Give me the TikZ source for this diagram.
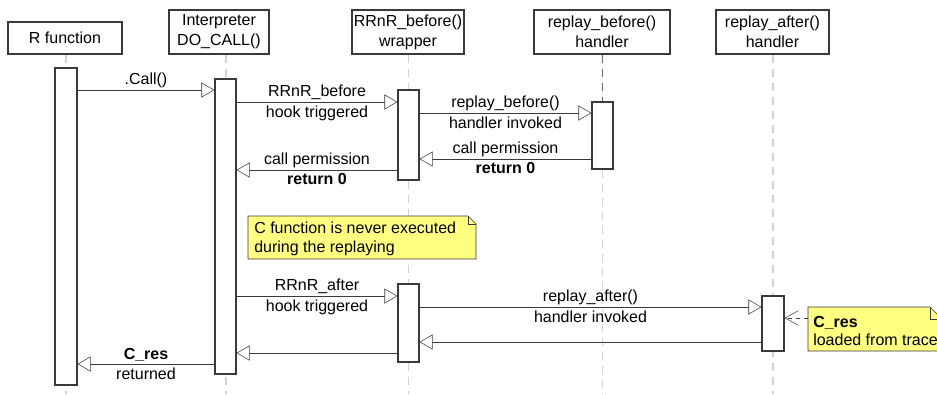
\documentclass[tikz,border=0pt]{standalone}
\usepackage{fontspec}
\setmainfont{Liberation Sans}
\usetikzlibrary{arrows.meta,fit,calc}
\pgfdeclarelayer{back}
\pgfsetlayers{back,main}
\definecolor{ln}{HTML}{3A3A3A}
\definecolor{lifegray}{HTML}{D4D4D4}
\definecolor{notey}{HTML}{FFFF80}
\begin{document}
\begin{tikzpicture}[x=0.75pt,y=-0.75pt,
  font=\fontsize{12pt}{14pt}\selectfont,
  line width=0.8pt,
  hdr/.style={draw=ln, fill=white, align=center, inner sep=0pt, font=\fontsize{12pt}{15pt}\selectfont},
  act/.style={draw=ln, fill=white, inner sep=0pt},
  msg/.style={draw=ln, -{Triangle[open,length=9.75pt,width=11.25pt,fill=white]}},
  dep/.style={draw=ln, dashed, -{Straight Barb[length=10pt,width=11pt]}},
  life/.style={draw=lifegray, dash pattern=on 6pt off 4.5pt, line width=1pt},
  notebox/.style={draw=ln, fill=notey},
  notetext/.style={align=left, inner sep=0pt, anchor=west},
  up/.style={above=1.5pt, inner sep=0pt},
  dn/.style={below=2.5pt, inner sep=0pt}
]
\useasboundingbox (0,0) rectangle (937,394);
\clip (0,0) rectangle (937,394);

% headers
\node[hdr, minimum width=85.5pt, minimum height=24pt] (hR) at (65,38) {R function};
\node[hdr, minimum width=75pt, minimum height=33pt] (hI) at (219,32) {Interpreter\\DO\_CALL()};
\node[hdr, minimum width=84pt, minimum height=33pt] (hW) at (408,32) {RRnR\_before()\\wrapper};
\node[hdr, minimum width=102pt, minimum height=33pt] (hB) at (602,32) {replay\_before()\\handler};
\node[hdr, minimum width=84.75pt, minimum height=33pt] (hA) at (772.5,32) {replay\_after()\\handler};

% lifeline x positions
\coordinate (lR) at (66,0);
\coordinate (lI) at (226,0);
\coordinate (lW) at (408.5,0);
\coordinate (lB) at (602.5,0);
\coordinate (lA) at (773,0);

% activations
\node[act, fit={(55,68)(77,385)}] (aR) {};
\node[act, fit={(215,79)(236,374)}] (aI) {};
\node[act, fit={(398,90)(419,180)}] (aW1) {};
\node[act, fit={(592,102)(613,169)}] (aB) {};
\node[act, fit={(398,284)(419,362)}] (aW2) {};
\node[act, fit={(762,296)(784,351)}] (aA) {};

\begin{pgfonlayer}{back}
\draw[life] (hR.south -| lR) -- (lR |- 0,394);
\draw[life] (hI.south -| lI) -- (lI |- 0,394);
\draw[life] (hW.south -| lW) -- (lW |- 0,394);
\draw[life, draw=black!60] (hB.south -| lB) -- (aB.north -| lB);
\draw[life] (aB.south -| lB) -- (lB |- 0,394);
\draw[life] (hA.south -| lA) -- (lA |- 0,394);
\end{pgfonlayer}

% messages
\draw[msg] (aR.east |- 0,90) -- node[up] (m1) {.Call()} (aI.west |- 0,90);
\draw[msg] (aI.east |- 0,102) -- node[up] (m2a) {RRnR\_before} node[dn] (m2b) {hook triggered} (aW1.west |- 0,102);
\draw[msg] (aW1.east |- 0,113) -- node[up] (m3a) {replay\_before()} node[dn] (m3b) {handler invoked} (aB.west |- 0,113);
\draw[msg] (aB.west |- 0,159) -- node[up] (m4a) {call permission} node[dn] (m4b) {\textbf{return 0}} (aW1.east |- 0,159);
\draw[msg] (aW1.west |- 0,170) -- node[up] (m5a) {call permission} node[dn] (m5b) {\textbf{return 0}} (aI.east |- 0,170);

% note 1
\draw[notebox] (248,216) -- (468,216) -- (476,224) -- (476,259) -- (248,259) -- cycle;
\draw[ln] (468,216) -- (468,224) -- (476,224);
\node[notetext] (n1) at (254,239) {C function is never executed\\during the replaying};

\draw[msg] (aI.east |- 0,296) -- node[up] (m6a) {RRnR\_after} node[dn] (m6b) {hook triggered} (aW2.west |- 0,296);
\draw[msg] (aW2.east |- 0,307) -- node[up] (m7a) {replay\_after()} node[dn] (m7b) {handler invoked} (aA.west |- 0,307);
\draw[msg] (aA.west |- 0,342) -- (aW2.east |- 0,342);
\draw[msg] (aW2.west |- 0,353) -- (aI.east |- 0,353);
\draw[msg] (aI.west |- 0,364) -- node[up] (m8a) {\textbf{C\_res}} node[dn] (m8b) {returned} (aR.east |- 0,364);

% note 2
\draw[notebox] (808,307) -- (930,307) -- (942,319) -- (942,351) -- (808,351) -- cycle;
\draw[ln] (930,307) -- (930,319) -- (942,319);
\node[notetext] (n2) at (813,331) {\textbf{C\_res}\\loaded from trace};
\coordinate (n2e) at (808,318);
\draw[dep] (n2e) -- (aA.east |- n2e);
\end{tikzpicture}
\end{document}
